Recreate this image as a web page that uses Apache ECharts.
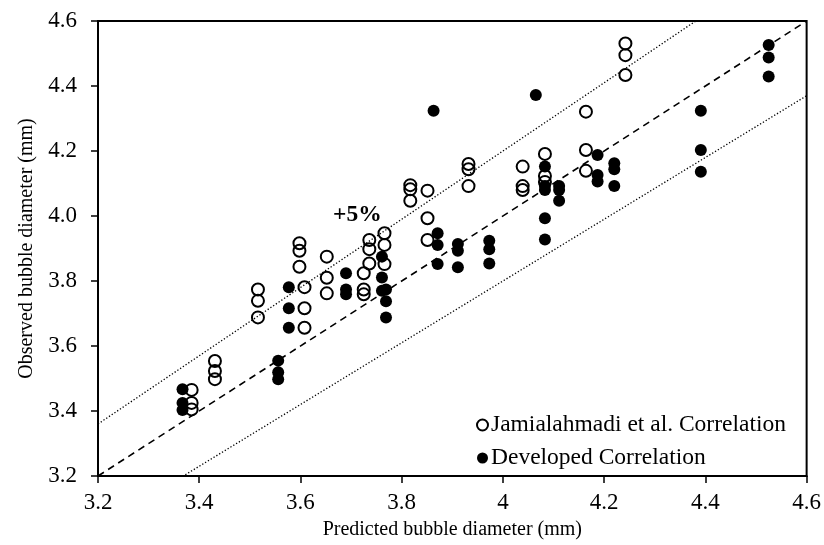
<!DOCTYPE html>
<html>
<head>
<meta charset="utf-8">
<script src="https://cdn.jsdelivr.net/npm/echarts@6/dist/echarts.min.js"></script>
<style>
  html, body {margin: 0; padding: 0; background: #fff;}
  #chart {width: 824px; height: 545px;}
</style>
</head>
<body>
<div id="chart"></div>
<script>
// predicted / observed bubble diameter (mm)
const jamPred = [3.385, 3.385, 3.385, 3.431, 3.431, 3.431, 3.516, 3.516, 3.516,
  3.598, 3.598, 3.598, 3.608, 3.608, 3.608, 3.652, 3.652, 3.652,
  3.725, 3.725, 3.725, 3.736, 3.736, 3.736, 3.766, 3.766, 3.766,
  3.817, 3.817, 3.817, 3.851, 3.851, 3.851, 3.932, 3.932, 3.932,
  4.039, 4.039, 4.039, 4.083, 4.083, 4.083, 4.164, 4.164, 4.164,
  4.242, 4.242, 4.242];
const jamObs = [3.465, 3.425, 3.405, 3.554, 3.523, 3.498, 3.774, 3.739, 3.688,
  3.916, 3.893, 3.844, 3.781, 3.716, 3.656, 3.875, 3.810, 3.762,
  3.824, 3.774, 3.759, 3.926, 3.898, 3.854, 3.947, 3.911, 3.852,
  4.095, 4.082, 4.047, 4.078, 3.993, 3.926, 4.160, 4.144, 4.092,
  4.152, 4.092, 4.080, 4.191, 4.123, 4.105, 4.321, 4.203, 4.139,
  4.531, 4.495, 4.434];

const devPred = [3.367, 3.367, 3.367, 3.556, 3.556, 3.556, 3.577, 3.577, 3.577,
  3.690, 3.690, 3.690, 3.761, 3.761, 3.761, 3.769, 3.769, 3.769,
  3.863, 3.871, 3.871, 3.871, 3.911, 3.911, 3.911, 3.973, 3.973, 3.973,
  4.065, 4.083, 4.083, 4.083, 4.083, 4.083, 4.111, 4.111, 4.111,
  4.187, 4.187, 4.187, 4.220, 4.220, 4.220, 4.391, 4.391, 4.391,
  4.525, 4.525, 4.525];
const devObs = [3.467, 3.425, 3.403, 3.555, 3.519, 3.498, 3.781, 3.716, 3.656,
  3.824, 3.774, 3.759, 3.875, 3.811, 3.770, 3.774, 3.738, 3.688,
  4.324, 3.947, 3.911, 3.852, 3.914, 3.893, 3.842, 3.924, 3.898, 3.854,
  4.372, 4.152, 4.092, 4.080, 3.993, 3.928, 4.092, 4.080, 4.047,
  4.188, 4.126, 4.106, 4.162, 4.144, 4.092, 4.324, 4.203, 4.136,
  4.526, 4.488, 4.429];

// y = k * x reference lines (parity and +/-5 %)
const lineEnds = [3.2, 4.6];
const bandFactors = [1.05, 0.95];

const font = 'Liberation Serif, Times New Roman, serif';

function pairs(xs, ys) {
  return xs.map((x, i) => [x, ys[i]]);
}

const chart = echarts.init(document.getElementById('chart'));

const bandSeries = bandFactors.map(k => ({
  type: 'line',
  data: lineEnds.map(x => [x, x * k]),
  symbol: 'none',
  silent: true,
  clip: true,
  lineStyle: {color: '#000', width: 1.3, type: [1.3, 2]},
  z: 1
}));

chart.setOption({
  animation: false,
  grid: {
    left: 98, right: 16, top: 21, bottom: 69,
    show: true, borderColor: '#000', borderWidth: 2
  },
  legend: {
    orient: 'vertical',
    left: 471, top: 408,
    itemWidth: 11, itemHeight: 11, itemGap: 9,
    data: ['Jamialahmadi et al. Correlation', 'Developed Correlation'],
    textStyle: {fontFamily: font, fontSize: 23.5, color: '#000', padding: [0, 0, 0, -2]}
  },
  xAxis: {
    type: 'value', min: 3.2, max: 4.6, interval: 0.2,
    name: 'Predicted bubble diameter (mm)',
    nameLocation: 'middle', nameGap: 44,
    nameTextStyle: {fontFamily: font, fontSize: 20, color: '#000'},
    axisLine: {lineStyle: {color: '#000', width: 2}},
    axisTick: {length: 7, lineStyle: {color: '#000', width: 1.5}},
    axisLabel: {fontFamily: font, fontSize: 23, color: '#000', margin: 15,
      formatter: v => +v.toFixed(1) === 4 ? '4' : (+v).toFixed(1)},
    splitLine: {show: false}
  },
  yAxis: {
    type: 'value', min: 3.2, max: 4.6, interval: 0.2,
    name: 'Observed bubble diameter (mm)',
    nameLocation: 'middle', nameGap: 61,
    nameTextStyle: {fontFamily: font, fontSize: 20, color: '#000'},
    axisLine: {lineStyle: {color: '#000', width: 2}},
    axisTick: {length: 7, lineStyle: {color: '#000', width: 1.5}},
    axisLabel: {fontFamily: font, fontSize: 23, color: '#000', margin: 21,
      formatter: v => (+v).toFixed(1)},
    splitLine: {show: false}
  },
  series: [
    {
      type: 'line',
      data: lineEnds.map(x => [x, x]),
      symbol: 'none',
      silent: true,
      lineStyle: {color: '#000', width: 1.6, type: [7, 5]},
      z: 1
    },
    ...bandSeries,
    {
      name: 'Jamialahmadi et al. Correlation',
      type: 'scatter',
      data: pairs(jamPred, jamObs),
      symbol: 'circle',
      symbolSize: 12,
      itemStyle: {color: 'rgba(255,255,255,0)', borderColor: '#000', borderWidth: 2, opacity: 1},
      z: 3
    },
    {
      name: 'Developed Correlation',
      type: 'scatter',
      data: pairs(devPred, devObs),
      symbol: 'circle',
      symbolSize: 12,
      itemStyle: {color: '#000', opacity: 1},
      z: 4
    }
  ],
  graphic: [{
    type: 'text',
    left: 333, top: 203,
    style: {text: '+5%', fontFamily: font, fontSize: 23.5, fontWeight: 'bold', fill: '#000'}
  }]
});
</script>
</body>
</html>
